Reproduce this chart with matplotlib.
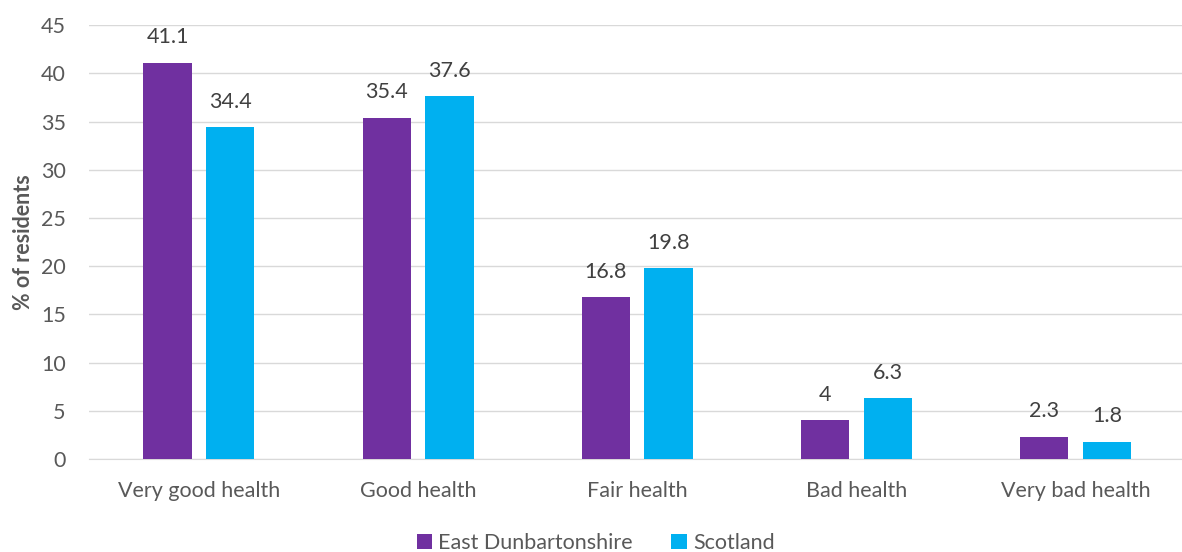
import matplotlib
matplotlib.use("Agg")
import matplotlib.pyplot as plt
import numpy as np

categories = ["Very good health", "Good health", "Fair health", "Bad health", "Very bad health"]
east_dunbartonshire = [41.1, 35.4, 16.8, 4, 2.3]
scotland = [34.4, 37.6, 19.8, 6.3, 1.8]
series_names = ["East Dunbartonshire", "Scotland"]
colors = ["#7030a0", "#00b0f0"]
text_color = "#595959"

plt.rcParams["font.family"] = ["Lato", "DejaVu Sans"]
fs = 15.5

fig = plt.figure(figsize=(11.82, 5.52), dpi=100)
ax = fig.add_axes([0.0756, 0.1685, 0.927, 0.786])

x = np.arange(len(categories))
width = 0.22
offset = 0.143
for vals, name, color, sign in zip([east_dunbartonshire, scotland], series_names, colors, [-1, 1]):
    bars = ax.bar(x + sign * offset, vals, width, color=color, label=name, zorder=3)
    for b, v in zip(bars, vals):
        ax.text(b.get_x() + b.get_width() / 2, v + 1.6, f"{v:g}", ha="center", va="bottom",
                fontsize=fs, color="#404040")

ax.set_xlim(-0.5, len(categories) - 0.5)
ax.set_ylim(0, 45)
ax.set_yticks(range(0, 46, 5))
ax.set_xticks(x)
ax.set_xticklabels(categories)
ax.grid(axis="y", color="#d9d9d9", linewidth=1, zorder=0)
for s in ["top", "right", "left"]:
    ax.spines[s].set_visible(False)
ax.spines["bottom"].set_color("#d9d9d9")
ax.tick_params(axis="both", length=0, labelsize=fs, colors=text_color)
ax.tick_params(axis="x", pad=16)
ax.tick_params(axis="y", pad=17)
ax.set_ylabel("% of residents", fontsize=fs, fontweight="bold", color=text_color, labelpad=5)

leg = ax.legend(loc="center", bbox_to_anchor=(0.462, -0.194), ncol=2, frameon=False,
                fontsize=fs, handlelength=0.7, handleheight=0.7, handletextpad=0.3, columnspacing=1.8)
for t in leg.get_texts():
    t.set_color(text_color)

fig.savefig("out.png", dpi=100)
